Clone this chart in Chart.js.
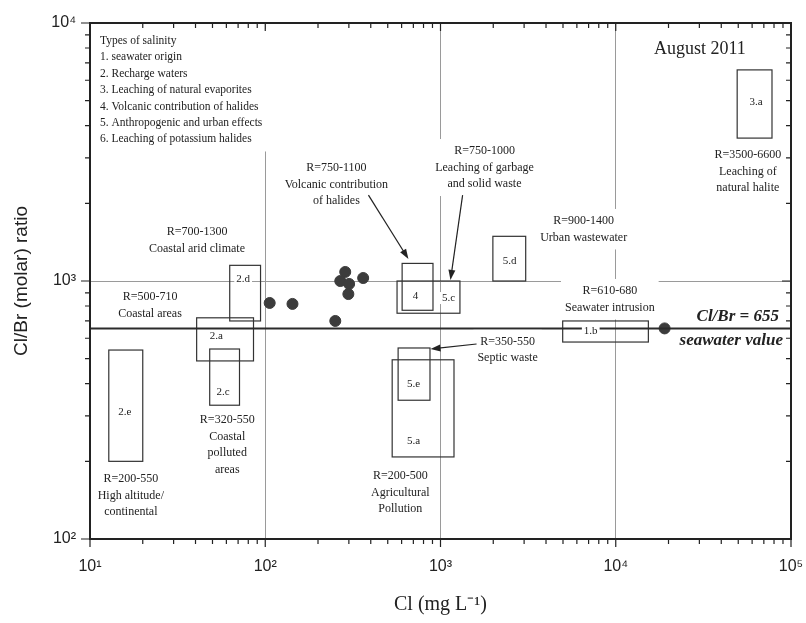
<!DOCTYPE html>
<html>
<head>
<meta charset="utf-8">
<script src="https://cdn.jsdelivr.net/npm/chart.js@4.4.1/dist/chart.umd.min.js"></script>
<style>
  html, body { margin: 0; padding: 0; background: #fff; }
  canvas { display: block; }
</style>
</head>
<body>
<canvas id="clbr-chart" width="806" height="623"></canvas>
<script>
// August 2011 samples: Cl (mg/L) vs Cl/Br molar ratio
const sampleCl = [106, 143, 251, 286, 268, 301, 298, 362];
const sampleClBr = [822, 815, 700, 1084, 1000, 974, 890, 1027];

const seawaterCl = [19000];
const seawaterClBr = [655];
const seawaterRatio = 655;

// reference fields from the literature (boxes)
const boxNames = ['2.e', '2.a', '2.c', '2.d', '4', '5.c', '5.e', '5.a', '5.d', '1.b', '3.a'];
const boxClMin = [12.8, 40.6, 48.2, 62.7, 604, 565, 573, 530, 1990, 4980, 49300];
const boxClMax = [20, 85.7, 71.3, 94, 906, 1291, 871, 1194, 3063, 15350, 77900];
const boxRatioMin = [200, 490, 330, 700, 770, 750, 345, 208, 1000, 580, 3580];
const boxRatioMax = [540, 720, 545, 1150, 1170, 1000, 550, 495, 1490, 700, 6580];
const boxLabelCl = [15.8, 52.5, 57.5, 74.8, 719, 1111, 701, 701, 2477, 7200, 63100];
const boxLabelRatio = [310, 612, 371, 1018, 875, 859, 399, 240, 1195, 640, 4940];

const clTicks = [10, 20, 30, 40, 50, 60, 70, 80, 90,
  100, 200, 300, 400, 500, 600, 700, 800, 900,
  1000, 2000, 3000, 4000, 5000, 6000, 7000, 8000, 9000,
  10000, 20000, 30000, 40000, 50000, 60000, 70000, 80000, 90000, 100000];
const ratioTicks = [100, 200, 300, 400, 500, 600, 700, 800, 900,
  1000, 2000, 3000, 4000, 5000, 6000, 7000, 8000, 9000, 10000];

// text notes, anchored at (Cl, ratio) of the first line
const noteLines = [
  ['Types of salinity', '1. seawater origin', '2. Recharge waters', '3. Leaching of natural evaporites',
   '4. Volcanic contribution of halides', '5. Anthropogenic and urban effects', '6. Leaching of potassium halides'],
  ['August 2011'],
  ['R=3500-6600', 'Leaching of', 'natural halite'],
  ['R=750-1100', 'Volcanic contribution', 'of halides'],
  ['R=750-1000', 'Leaching of garbage', 'and solid waste'],
  ['R=900-1400', 'Urban wastewater'],
  ['R=610-680', 'Seawater intrusion'],
  ['R=350-550', 'Septic waste'],
  ['R=700-1300', 'Coastal arid climate'],
  ['R=500-710', 'Coastal areas'],
  ['R=320-550', 'Coastal', 'polluted', 'areas'],
  ['R=200-550', 'High altitude/', 'continental'],
  ['R=200-500', 'Agricultural', 'Pollution'],
  ['Cl/Br = 655'],
  ['seawater value']
];
const noteCl = [11.4, 30200, 56700, 254.6, 1783, 6560, 9250, 2414, 40.8, 22.0, 60.7, 17.1, 590, 85400, 90000];
const noteRatio = [8510, 7930, 3080, 2740, 3190, 1709, 915, 581, 1549, 867, 289, 171, 175, 725, 585];

// arrows from notes to boxes
const arrowFromCl = [388, 1337, 1606];
const arrowFromRatio = [2153, 2153, 570];
const arrowToCl = [656, 1140, 877];
const arrowToRatio = [1217, 1009, 545];

const SERIF = '"Liberation Serif", "Times New Roman", serif';
const SANS = '"Liberation Sans", Arial, sans-serif';
const sup = ['\u2070', '\u00b9', '\u00b2', '\u00b3', '\u2074', '\u2075'];
const isMajor = v => Math.abs(Math.log10(v) - Math.round(Math.log10(v))) < 1e-9;

function noteFont(i) {
  if (i === 0) return '11.5px ' + SERIF;
  if (i === 1) return '18px ' + SERIF;
  if (i >= 13) return 'italic bold 17px ' + SERIF;
  return '12px ' + SERIF;
}
function noteAlign(i) {
  if (i === 0) return 'left';
  if (i >= 13) return 'right';
  return 'center';
}

function drawArrow(ctx, x0, y0, x1, y1) {
  const a = Math.atan2(y1 - y0, x1 - x0);
  const len = 10, w = 3.5;
  ctx.beginPath();
  ctx.moveTo(x0, y0);
  ctx.lineTo(x1 - Math.cos(a) * len * 0.8, y1 - Math.sin(a) * len * 0.8);
  ctx.stroke();
  ctx.beginPath();
  ctx.moveTo(x1, y1);
  ctx.lineTo(x1 - Math.cos(a) * len - Math.sin(a) * w, y1 - Math.sin(a) * len + Math.cos(a) * w);
  ctx.lineTo(x1 - Math.cos(a) * len + Math.sin(a) * w, y1 - Math.sin(a) * len - Math.cos(a) * w);
  ctx.closePath();
  ctx.fill();
}

const fieldsPlugin = {
  id: 'fields',
  beforeDraw(chart) {
    const ctx = chart.ctx;
    ctx.save();
    ctx.fillStyle = '#fff';
    ctx.fillRect(0, 0, chart.width, chart.height);
    ctx.restore();
  },
  beforeDatasetsDraw(chart) {
    const { ctx, scales: { x, y } } = chart;
    ctx.save();
    ctx.strokeStyle = '#333';
    ctx.lineWidth = 1.2;
    boxNames.forEach((name, i) => {
      const x0 = x.getPixelForValue(boxClMin[i]);
      const x1 = x.getPixelForValue(boxClMax[i]);
      const y0 = y.getPixelForValue(boxRatioMin[i]);
      const y1 = y.getPixelForValue(boxRatioMax[i]);
      ctx.strokeRect(x0, y1, x1 - x0, y0 - y1);
    });
    ctx.restore();
  },
  afterDatasetsDraw(chart) {
    const { ctx, scales: { x, y } } = chart;
    ctx.save();
    ctx.fillStyle = '#222';
    ctx.textBaseline = 'middle';

    // box labels
    ctx.font = '11px ' + SERIF;
    ctx.textAlign = 'center';
    boxNames.forEach((name, i) => {
      const px = x.getPixelForValue(boxLabelCl[i]);
      const py = y.getPixelForValue(boxLabelRatio[i]);
      const w = ctx.measureText(name).width;
      ctx.fillStyle = '#fff';
      ctx.fillRect(px - w / 2 - 2, py - 6, w + 4, 12);
      ctx.fillStyle = '#222';
      ctx.fillText(name, px, py);
    });

    // notes with white background
    noteLines.forEach((lines, i) => {
      ctx.font = noteFont(i);
      const align = noteAlign(i);
      ctx.textAlign = align;
      const lh = i === 0 ? 16.4 : 16.5;
      const px = x.getPixelForValue(noteCl[i]);
      const py = y.getPixelForValue(noteRatio[i]);
      const w = Math.max(...lines.map(s => ctx.measureText(s).width));
      let left = px - w / 2;
      if (align === 'left') left = px;
      if (align === 'right') left = px - w;
      const pad = i >= 13 ? 1 : 4;
      ctx.fillStyle = '#fff';
      ctx.fillRect(left - pad, py - 8 - pad, w + 2 * pad, lh * (lines.length - 1) + 16 + 2 * pad);
      ctx.fillStyle = '#222';
      lines.forEach((s, k) => ctx.fillText(s, px, py + k * lh));
    });

    // arrows
    ctx.strokeStyle = '#222';
    ctx.fillStyle = '#222';
    ctx.lineWidth = 1.2;
    arrowFromCl.forEach((v, i) => {
      drawArrow(ctx,
        x.getPixelForValue(v), y.getPixelForValue(arrowFromRatio[i]),
        x.getPixelForValue(arrowToCl[i]), y.getPixelForValue(arrowToRatio[i]));
    });
    ctx.restore();
  },
  afterDraw(chart) {
    const { ctx, chartArea: a, scales: { x, y } } = chart;
    ctx.save();
    ctx.strokeStyle = '#222';
    ctx.lineWidth = 1.2;
    clTicks.forEach(v => {
      const px = x.getPixelForValue(v);
      const len = isMajor(v) ? 8 : 5;
      ctx.beginPath();
      ctx.moveTo(px, a.bottom); ctx.lineTo(px, a.bottom + len);
      ctx.moveTo(px, a.top); ctx.lineTo(px, a.top + len);
      ctx.stroke();
    });
    ratioTicks.forEach(v => {
      const py = y.getPixelForValue(v);
      const len = isMajor(v) ? 9 : 5;
      ctx.beginPath();
      ctx.moveTo(a.left, py); ctx.lineTo(a.left - len, py);
      ctx.moveTo(a.right, py); ctx.lineTo(a.right - len, py);
      ctx.stroke();
    });
    ctx.lineWidth = 2;
    ctx.strokeRect(a.left, a.top, a.right - a.left, a.bottom - a.top);
    ctx.restore();
  }
};

const gridColor = scale => c => {
  const v = c.tick && c.tick.value;
  if (!v || !isMajor(v) || v === scale[0] || v === scale[scale.length - 1]) return 'rgba(0,0,0,0)';
  return '#9a9a9a';
};

new Chart(document.getElementById('clbr-chart'), {
  type: 'scatter',
  data: {
    datasets: [
      {
        label: 'Cl/Br = 655',
        data: [{ x: clTicks[0], y: seawaterRatio }, { x: clTicks[clTicks.length - 1], y: seawaterRatio }],
        showLine: true,
        borderColor: '#2b2b2b',
        borderWidth: 2,
        pointRadius: 0
      },
      {
        label: 'August 2011',
        data: sampleCl.map((v, i) => ({ x: v, y: sampleClBr[i] })),
        backgroundColor: '#3c3c3c',
        borderColor: '#3c3c3c',
        pointRadius: 5.5
      },
      {
        label: 'Seawater',
        data: seawaterCl.map((v, i) => ({ x: v, y: seawaterClBr[i] })),
        backgroundColor: '#3c3c3c',
        borderColor: '#3c3c3c',
        pointRadius: 5.5
      }
    ]
  },
  options: {
    responsive: false,
    animation: false,
    devicePixelRatio: 1,
    layout: { padding: { top: 23, right: 15, left: 0, bottom: 0 } },
    plugins: { legend: { display: false }, tooltip: { enabled: false } },
    scales: {
      x: {
        type: 'logarithmic',
        min: 10,
        max: 100000,
        afterBuildTicks: s => { s.ticks = clTicks.map(v => ({ value: v })); },
        afterFit: s => { s.height = 84; s.paddingRight = 0; s.paddingLeft = 0; },
        border: { display: false },
        grid: { color: gridColor(clTicks), lineWidth: 1, drawTicks: false },
        ticks: {
          autoSkip: false,
          maxRotation: 0,
          padding: 18,
          color: '#222',
          font: { family: SANS, size: 16 },
          callback: v => isMajor(v) ? '10' + sup[Math.round(Math.log10(v))] : ''
        },
        title: {
          display: true,
          text: 'Cl (mg L\u207b\u00b9)',
          color: '#222',
          font: { family: SERIF, size: 20 },
          padding: { top: 0, bottom: 6 }
        }
      },
      y: {
        type: 'logarithmic',
        min: 100,
        max: 10000,
        afterBuildTicks: s => { s.ticks = ratioTicks.map(v => ({ value: v })); },
        afterFit: s => { s.width = 90; s.paddingTop = 0; s.paddingBottom = 0; },
        border: { display: false },
        grid: { color: gridColor(ratioTicks), lineWidth: 1, drawTicks: false },
        ticks: {
          autoSkip: false,
          padding: 14,
          color: '#222',
          font: { family: SANS, size: 16 },
          callback: v => isMajor(v) ? '10' + sup[Math.round(Math.log10(v))] : ''
        },
        title: {
          display: true,
          text: 'Cl/Br (molar) ratio',
          color: '#222',
          font: { family: SANS, size: 19 },
          padding: { top: 10, bottom: 0 }
        }
      }
    }
  },
  plugins: [fieldsPlugin]
});
</script>
</body>
</html>
